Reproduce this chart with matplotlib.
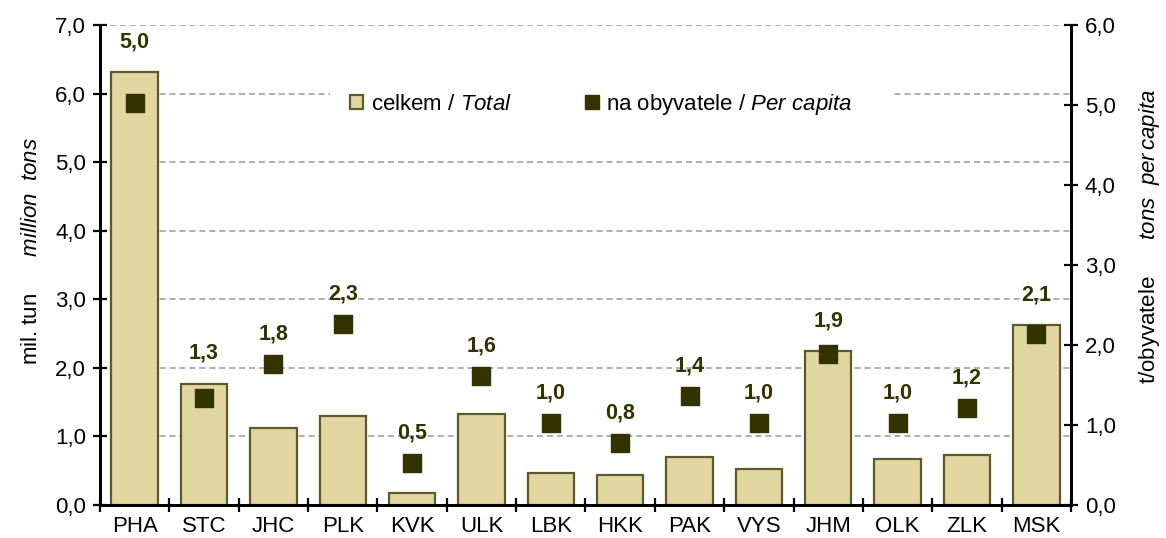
import numpy as np
import matplotlib
matplotlib.use("Agg")
import matplotlib.pyplot as plt
from matplotlib.ticker import FuncFormatter, FixedLocator
from matplotlib.patches import Patch, Rectangle
from matplotlib.lines import Line2D

plt.rcParams["font.family"] = ["Liberation Sans", "DejaVu Sans"]
plt.rcParams["mathtext.fontset"] = "custom"
plt.rcParams["mathtext.rm"] = "Liberation Sans"
plt.rcParams["mathtext.it"] = "Liberation Sans:italic"

regions = ["PHA", "STC", "JHC", "PLK", "KVK", "ULK", "LBK",
           "HKK", "PAK", "VYS", "JHM", "OLK", "ZLK", "MSK"]
total_mil_t = [6.31, 1.77, 1.13, 1.30, 0.18, 1.33, 0.47,
               0.44, 0.70, 0.52, 2.24, 0.67, 0.73, 2.62]
per_capita_t = [5.03, 1.34, 1.76, 2.26, 0.52, 1.61, 1.02,
                0.77, 1.36, 1.02, 1.89, 1.02, 1.21, 2.14]

BAR_FC = "#E2D7A0"
BAR_EC = "#5E5A2E"
MARK = "#333300"
FS = 16


def comma(v, _pos=None):
    return f"{v:.1f}".replace(".", ",")


fig = plt.figure(figsize=(11.66, 5.38), dpi=100)
ax = fig.add_axes([100 / 1166, 1 - 505 / 538, 971 / 1166, 480 / 538])
ax2 = ax.twinx()

x = np.arange(len(regions))
ax.bar(x, total_mil_t, 0.67, color=BAR_FC, edgecolor=BAR_EC, lw=1.6, zorder=3)
ax.set_xlim(-0.5, len(regions) - 0.5)
ax.set_ylim(0, 7)
ax.yaxis.set_major_locator(FixedLocator(np.arange(0, 7.5, 1)))
ax.yaxis.set_major_formatter(FuncFormatter(comma))
ax.yaxis.grid(True, color="#9a9a9a", ls=(0, (4, 2.5)), lw=1.1)
ax.set_axisbelow(True)
ax.set_xticks(x)
ax.set_xticklabels(regions)
ax.set_xticks(np.arange(-0.5, len(regions), 1), minor=True)
ax.tick_params(axis="x", which="major", length=0, pad=8, labelsize=FS)
ax.tick_params(axis="x", which="minor", length=10, width=1.6, direction="inout")
ax.tick_params(axis="y", length=10, width=1.6, direction="inout", labelsize=FS, pad=5)

# white legend area hiding the gridline behind it
ax.add_patch(Rectangle((0.237, 0.80), 0.58, 0.12, transform=ax.transAxes,
                       facecolor="white", edgecolor="none", zorder=1))

ax2.set_ylim(0, 6)
ax2.yaxis.set_major_locator(FixedLocator(np.arange(0, 6.5, 1)))
ax2.yaxis.set_major_formatter(FuncFormatter(comma))
ax2.tick_params(axis="y", length=10, width=1.6, direction="inout", labelsize=FS, pad=5)
ax2.scatter(x, per_capita_t, marker="s", s=150, color=MARK, zorder=5)

for a in (ax, ax2):
    a.spines["top"].set_visible(False)
    for s in ("left", "right", "bottom"):
        a.spines[s].set_linewidth(2)
        a.spines[s].set_color("black")

# labels above the higher of bar top / marker
for xi, tot, pc in zip(x, total_mil_t, per_capita_t):
    top = max(pc, tot * 6 / 7)
    ax2.annotate(comma(pc), (xi, top), xytext=(0, 22), textcoords="offset points",
                 ha="center", va="center", fontsize=FS - 0.5, fontweight="bold",
                 color=MARK, zorder=6)

ax.set_ylabel(r"mil. tun      $\it{million\ \ tons}$", fontsize=FS)
ax.yaxis.set_label_coords(-0.06, 0.53)
ax2.set_ylabel(r"t/obyvatele      $\it{tons\ \ per\,capita}$", fontsize=FS)
ax2.yaxis.set_label_coords(1.068, 0.56)

handles = [Patch(facecolor=BAR_FC, edgecolor=BAR_EC, lw=1.6),
           Line2D([], [], ls="", marker="s", ms=10, color=MARK)]
labels = [r"celkem / $\it{Total}$", r"na obyvatele / $\it{Per\ capita}$"]
leg = ax2.legend(handles, labels, loc="center", bbox_to_anchor=(0.516, 0.835),
                 ncol=2, fontsize=FS, frameon=False, columnspacing=3.3,
                 handlelength=0.6, handleheight=0.6, handletextpad=0.35,
                 borderpad=0.6, borderaxespad=0)
leg.set_zorder(4)

fig.savefig("out.png", dpi=100)
